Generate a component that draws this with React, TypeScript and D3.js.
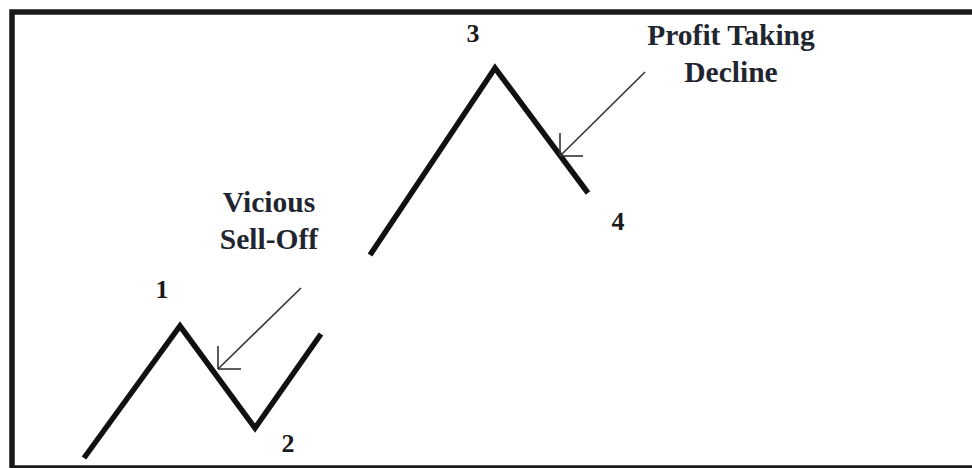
import React from "react";
import * as d3 from "d3";

// Wave points in abstract units (time, price)
const waveATime = [8.4, 18.0, 25.5, 32.1];
const waveAPrice = [1.0, 14.2, 4.0, 13.4];
const waveBTime = [37.0, 49.5, 58.8];
const waveBPrice = [21.3, 40.0, 27.5];

// Wave number labels
const waveLabels = ["1", "2", "3", "4"];
const waveLabelTime = [16.2, 28.8, 47.3, 61.8];
const waveLabelPrice = [17.0, 1.6, 42.6, 23.8];

// Annotations
const annotationLines = [
  ["Vicious", "Sell-Off"],
  ["Profit Taking", "Decline"],
];
const annotationTime = [26.9, 73.1];
const annotationPrice = [25.6, 42.3];
const arrowTailTime = [30.1, 64.5];
const arrowTailPrice = [18.0, 39.6];
const arrowTipTime = [21.8, 56.0];
const arrowTipPrice = [9.9, 31.2];

const W = 972;
const H = 468;

export default function App() {
  const x = d3.scaleLinear().domain([0, 97.2]).range([0, W]);
  const y = d3.scaleLinear().domain([0, 46.8]).range([H, 0]);

  const line = d3
    .line<[number, number]>()
    .x((d) => x(d[0]))
    .y((d) => y(d[1]));

  const waveA = waveATime.map((t, i) => [t, waveAPrice[i]] as [number, number]);
  const waveB = waveBTime.map((t, i) => [t, waveBPrice[i]] as [number, number]);

  const font = "'Liberation Serif', 'Times New Roman', serif";
  const headLen = 23;

  return (
    <svg
      width={W}
      height={H}
      style={{ position: "absolute", left: 0, top: 0, background: "#fff" }}
    >
      <rect
        x={12}
        y={12}
        width={966}
        height={456}
        fill="#fff"
        stroke="#1a1a1a"
        strokeWidth={5.5}
      />
      {[waveA, waveB].map((pts, i) => (
        <path
          key={i}
          d={line(pts) || ""}
          fill="none"
          stroke="#111"
          strokeWidth={5.5}
          strokeLinejoin="miter"
          strokeLinecap="butt"
        />
      ))}
      {waveLabels.map((lab, i) => (
        <text
          key={lab}
          x={x(waveLabelTime[i])}
          y={y(waveLabelPrice[i])}
          textAnchor="middle"
          fontFamily={font}
          fontWeight="bold"
          fontSize={26}
          fill="#1a1a1a"
        >
          {lab}
        </text>
      ))}
      {annotationLines.map((lines, i) => (
        <g key={i}>
          {lines.map((l, j) => (
            <text
              key={j}
              x={x(annotationTime[i])}
              y={y(annotationPrice[i]) + j * 37}
              textAnchor="middle"
              fontFamily={font}
              fontWeight="bold"
              fontSize={29.5}
              fill="#1f2630"
            >
              {l}
            </text>
          ))}
          <line
            x1={x(arrowTailTime[i])}
            y1={y(arrowTailPrice[i])}
            x2={x(arrowTipTime[i])}
            y2={y(arrowTipPrice[i])}
            stroke="#333"
            strokeWidth={1.6}
          />
          <line
            x1={x(arrowTipTime[i])}
            y1={y(arrowTipPrice[i])}
            x2={x(arrowTipTime[i])}
            y2={y(arrowTipPrice[i]) - headLen}
            stroke="#333"
            strokeWidth={1.6}
          />
          <line
            x1={x(arrowTipTime[i])}
            y1={y(arrowTipPrice[i])}
            x2={x(arrowTipTime[i]) + headLen}
            y2={y(arrowTipPrice[i])}
            stroke="#333"
            strokeWidth={1.6}
          />
        </g>
      ))}
    </svg>
  );
}
